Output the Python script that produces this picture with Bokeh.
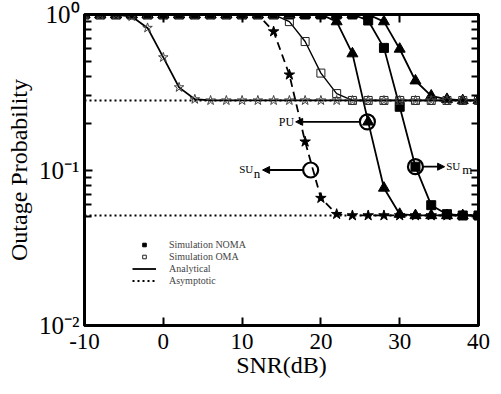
from bokeh.plotting import figure
from bokeh.models import (FixedTicker, LinearAxis, LogAxis, Label, Arrow, NormalHead,
                          Legend, LegendItem)
from bokeh.embed import file_html
from bokeh.resources import INLINE

# ---------------- data ----------------
snr = [-10, -8, -6, -4, -2, 0, 2, 4, 6, 8, 10, 12, 14, 16, 18, 20, 22, 24, 26, 28, 30,
       32, 34, 36, 38, 40]

# open stars, solid line
oma_sun = [1.0, 1.0, 1.0, 0.97, 0.82, 0.53, 0.34, 0.285] + [0.28] * 18
# open squares, solid line
oma_pu = [1.0] * 13 + [0.90, 0.67, 0.42, 0.31] + [0.28] * 9
# filled stars, dashed line
noma_sun = [1.0] * 12 + [0.777, 0.41, 0.152, 0.066, 0.052] + [0.051] * 9
# filled triangles, solid line (PU)
noma_pu = [1.0] * 16 + [0.90, 0.56, 0.204, 0.0766, 0.052] + [0.051] * 5
# filled squares, solid line (SU_m)
noma_sum = [1.0] * 18 + [0.915, 0.61, 0.255, 0.105, 0.0594, 0.052, 0.051, 0.051]
# filled triangles, solid line (rightmost)
oma_sum = [1.0] * 19 + [0.90, 0.60, 0.375, 0.30, 0.285, 0.28, 0.28]

asym_x = [-10, 40]
asym_oma = [0.28, 0.28]
asym_noma = [0.051, 0.051]

# marked operating points (circles)
circ_x = [25.9, 18.7, 32.0]
circ_y = [0.204, 0.1, 0.105]

x_ticks = [-10, 0, 10, 20, 30, 40]
x_labels = {-10: "-10", 0: "0", 10: "10", 20: "20", 30: "30", 40: "40"}
y_ticks = [0.01, 0.1, 1]
y_minor = [0.05, 0.06, 0.07, 0.08, 0.09, 0.2, 0.3, 0.4, 0.5, 0.6, 0.7, 0.8, 0.9]
y_labels = {0.01: "10\u207b\u00b2", 0.1: "10\u207b\u00b9", 1: "10\u2070"}

FONT = "Liberation Serif"

p = figure(width=493, height=390, x_range=(-10, 40), y_range=(0.01, 1),
           y_axis_type="log", output_backend="svg", toolbar_location=None,
           min_border_left=84, min_border_right=15, min_border_top=14,
           min_border_bottom=65)
p.grid.visible = False
p.outline_line_color = "black"
p.outline_line_width = 3
p.background_fill_color = "white"
p.border_fill_color = "white"

yt = FixedTicker(ticks=y_ticks, minor_ticks=y_minor)
xt = FixedTicker(ticks=x_ticks)

xa = p.xaxis[0]
xa.ticker = xt
xa.axis_label = "SNR(dB)"
xa.major_label_overrides = x_labels
ya = p.yaxis[0]
ya.ticker = yt
ya.axis_label = "Outage Probability"
ya.major_label_overrides = y_labels

for ax in (xa, ya):
    ax.axis_line_width = 3
    ax.major_tick_in = 8
    ax.major_tick_out = 0
    ax.minor_tick_in = 7
    ax.minor_tick_out = 0
    ax.major_tick_line_width = 2
    ax.minor_tick_line_width = 2
    ax.major_label_text_font = FONT
    ax.axis_label_text_font = FONT
    ax.axis_label_text_font_style = "normal"
    ax.major_label_text_color = "black"
    ax.axis_label_text_color = "black"
xa.minor_tick_line_color = None
xa.major_label_text_font_size = "23px"
xa.axis_label_text_font_size = "24px"
xa.major_label_standoff = 8
xa.axis_label_standoff = 0
ya.major_label_text_font_size = "25px"
ya.axis_label_text_font_size = "24px"
ya.major_label_standoff = 5
ya.axis_label_standoff = 4

ra = LogAxis(ticker=yt, major_label_text_font_size="1px", major_label_text_color=None,
             major_tick_in=8, major_tick_out=0, minor_tick_in=7, minor_tick_out=0,
             major_tick_line_width=2, minor_tick_line_width=2, axis_line_width=3,
             major_label_standoff=0)
p.add_layout(ra, "right")
ta = LinearAxis(ticker=xt, major_label_text_font_size="1px", major_label_text_color=None,
                major_tick_in=8, major_tick_out=0, minor_tick_line_color=None,
                major_tick_line_width=2, axis_line_width=3, major_label_standoff=0)
p.add_layout(ta, "above")

# asymptotes
asym_r = p.line(asym_x, asym_oma, line_color="black", line_width=2, line_dash="2 3")
p.line(asym_x, asym_noma, line_color="black", line_width=2, line_dash="2 3")

# analytical lines
ana_r = p.line(snr, oma_sun, line_color="black", line_width=1.8)
p.line(snr, oma_pu, line_color="black", line_width=1.4)
p.line(snr, noma_sun, line_color="black", line_width=1.8, line_dash="8 5")
p.line(snr, noma_pu, line_color="black", line_width=1.8)
p.line(snr, noma_sum, line_color="black", line_width=1.8)
p.line(snr, oma_sum, line_color="black", line_width=1.8)

# simulation markers
noma_r = p.scatter(snr, noma_sum, marker="square", size=9, color="black")
p.scatter(snr, noma_pu, marker="triangle", size=11, color="black")
p.scatter(snr, oma_sum, marker="triangle", size=11, color="black")
p.scatter(snr, noma_sun, marker="star", size=11, color="black")
oma_r = p.scatter(snr, oma_pu, marker="square", size=8, fill_alpha=0,
                  line_color="#222222", line_width=1)
p.scatter(snr, oma_sun, marker="star", size=10, fill_alpha=0, line_color="#444444",
          line_width=1)

# circles marking the users
p.scatter(circ_x, circ_y, marker="circle", size=15, fill_alpha=0, line_color="black",
          line_width=2.2)

# arrows and user labels
def arrow(x0, y0, x1):
    p.add_layout(Arrow(end=NormalHead(size=7, fill_color="black", line_color="black"),
                       x_start=x0, y_start=y0, x_end=x1, y_end=y0,
                       line_color="black", line_width=1.8))

arrow(circ_x[0] - 0.9, circ_y[0], 16.8)
arrow(circ_x[1] - 0.9, circ_y[1], 12.6)
arrow(circ_x[2] + 1.0, circ_y[2], 35.7)

def lab(txt, x, y, size, align, xo=0, yo=0):
    p.add_layout(Label(x=x, y=y, text=txt, text_font=FONT, text_font_size=size,
                       text_align=align, text_baseline="middle", x_offset=xo,
                       y_offset=yo, text_color="black"))

lab("PU", 16.6, circ_y[0], "12px", "right")
lab("n", 12.3, circ_y[1], "13px", "right", 0, -3)
lab("SU", 12.3, circ_y[1], "11px", "right", -7, 1)
lab("SU", 35.9, circ_y[2], "11px", "left", 0, 1)
lab("m", 35.9, circ_y[2], "13px", "left", 16, -3)

legend = Legend(items=[LegendItem(label="Simulation NOMA", renderers=[noma_r]),
                       LegendItem(label="Simulation OMA", renderers=[oma_r]),
                       LegendItem(label="Analytical", renderers=[ana_r]),
                       LegendItem(label="Asymptotic", renderers=[asym_r])],
                location=(48, 39), border_line_color=None, background_fill_alpha=0,
                label_text_font=FONT, label_text_font_size="10px",
                glyph_width=24, glyph_height=9, label_height=9, spacing=1,
                padding=0, margin=0, label_standoff=13)
p.add_layout(legend, "center")

open("out.html", "w").write(file_html(p, INLINE))
